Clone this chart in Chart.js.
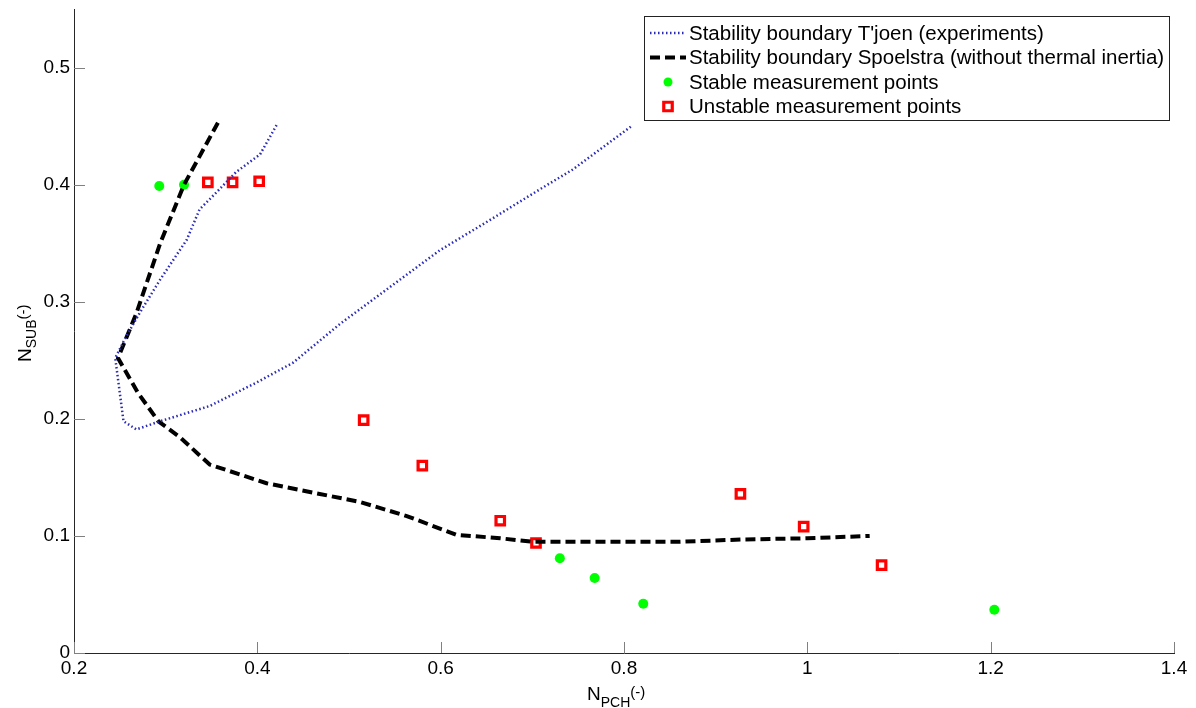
<!DOCTYPE html>
<html>
<head>
<meta charset="utf-8">
<script src="https://cdn.jsdelivr.net/npm/chart.js@4/dist/chart.umd.min.js"></script>
<style>
  html, body { margin: 0; padding: 0; background: #fff; }
  #wrap { width: 1196px; height: 708px; position: relative; }
</style>
</head>
<body>
<div id="wrap"><canvas id="chart" width="1196" height="708"></canvas></div>
<script>
'use strict';

// Stability boundary T'joen (experiments)
const tjoenX = [0.421, 0.403, 0.377, 0.356, 0.337, 0.323, 0.294, 0.272, 0.256, 0.245,
                0.250, 0.254, 0.268, 0.294, 0.348, 0.399, 0.439, 0.490, 0.599, 0.654,
                0.708, 0.744, 0.808];
const tjoenY = [0.451, 0.426, 0.411, 0.394, 0.379, 0.353, 0.319, 0.291, 0.269, 0.252,
                0.222, 0.198, 0.191, 0.198, 0.211, 0.231, 0.248, 0.281, 0.344, 0.370,
                0.396, 0.413, 0.450];

// Stability boundary Spoelstra (without thermal inertia)
const spoelX = [0.357, 0.320, 0.294, 0.268, 0.248, 0.270, 0.292, 0.316, 0.348, 0.410,
                0.512, 0.563, 0.617, 0.665, 0.700, 0.860, 0.930, 1.000, 1.068];
const spoelY = [0.453, 0.400, 0.350, 0.290, 0.252, 0.222, 0.198, 0.184, 0.161, 0.145,
                0.129, 0.117, 0.101, 0.098, 0.095, 0.095, 0.097, 0.098, 0.100];

// measurement points
const stableX = [0.293, 0.320, 0.730, 0.768, 0.821, 1.204];
const stableY = [0.399, 0.400, 0.081, 0.064, 0.042, 0.037];
const unstableX = [0.346, 0.373, 0.402, 0.516, 0.580, 0.665, 0.704, 0.927, 0.996, 1.081];
const unstableY = [0.402, 0.402, 0.403, 0.199, 0.160, 0.113, 0.094, 0.136, 0.108, 0.075];

const xTicks = [0.2, 0.4, 0.6, 0.8, 1, 1.2, 1.4];
const yTicks = [0, 0.1, 0.2, 0.3, 0.4, 0.5];

const legendLabels = [
  "Stability boundary T'joen (experiments)",
  'Stability boundary Spoelstra (without thermal inertia)',
  'Stable measurement points',
  'Unstable measurement points'
];

const FONT = "'Liberation Sans', Arial, sans-serif";
const toPts = (xs, ys) => xs.map((x, i) => ({ x: x, y: ys[i] }));
const fmt = v => String(+Number(v).toFixed(2));

// inward tick marks, MATLAB style
const tickMarks = {
  id: 'tickMarks',
  afterDraw(chart) {
    const { ctx, chartArea: a, scales: { x, y } } = chart;
    ctx.save();
    ctx.strokeStyle = '#808080';
    ctx.lineWidth = 1;
    ctx.beginPath();
    xTicks.forEach(v => {
      const px = Math.round(x.getPixelForValue(v)) + 0.5;
      ctx.moveTo(px, a.bottom); ctx.lineTo(px, a.bottom - 11);
    });
    yTicks.forEach(v => {
      const py = Math.round(y.getPixelForValue(v)) + 0.5;
      ctx.moveTo(a.left, py); ctx.lineTo(a.left + 11, py);
    });
    ctx.stroke();
    ctx.restore();
  }
};

// axis titles with subscripts + legend box
const titlesAndLegend = {
  id: 'titlesAndLegend',
  afterDraw(chart) {
    const ctx = chart.ctx;
    ctx.save();
    ctx.fillStyle = '#000';
    ctx.textBaseline = 'alphabetic';
    ctx.textAlign = 'left';

    // x title: N_PCH(-)
    let cx = 587;
    ctx.font = '19px ' + FONT;
    ctx.fillText('N', cx, 700); cx += ctx.measureText('N').width;
    ctx.font = '14px ' + FONT;
    ctx.fillText('PCH', cx, 707); cx += ctx.measureText('PCH').width;
    ctx.font = '15px ' + FONT;
    ctx.fillText('(-)', cx, 697);

    // y title: N_SUB(-), rotated
    ctx.translate(31, 362);
    ctx.rotate(-Math.PI / 2);
    cx = 0;
    ctx.font = '19px ' + FONT;
    ctx.fillText('N', cx, 0); cx += ctx.measureText('N').width;
    ctx.font = '14px ' + FONT;
    ctx.fillText('SUB', cx, 5); cx += ctx.measureText('SUB').width;
    ctx.font = '15px ' + FONT;
    ctx.fillText('(-)', cx, -3);
    ctx.setTransform(1, 0, 0, 1, 0, 0);

    // legend
    const bx = 644, by = 16, bw = 525, bh = 104;
    ctx.fillStyle = '#fff';
    ctx.fillRect(bx, by, bw, bh);
    ctx.strokeStyle = '#222';
    ctx.lineWidth = 1;
    ctx.strokeRect(bx + 0.5, by + 0.5, bw, bh);

    const rows = [33, 57.5, 82, 106.5];
    const ds = chart.data.datasets;
    ctx.font = '20.5px ' + FONT;
    ctx.textBaseline = 'middle';
    rows.forEach((ry, i) => {
      const d = ds[i];
      ctx.save();
      if (i < 2) {
        ctx.strokeStyle = d.borderColor;
        ctx.lineWidth = d.borderWidth;
        ctx.setLineDash(d.borderDash);
        ctx.beginPath();
        ctx.moveTo(650, ry); ctx.lineTo(686, ry);
        ctx.stroke();
      } else {
        ctx.fillStyle = d.pointBackgroundColor;
        ctx.strokeStyle = d.pointBorderColor;
        ctx.lineWidth = d.pointBorderWidth;
        ctx.beginPath();
        if (d.pointStyle === 'rect') {
          const s = d.pointRadius * Math.SQRT1_2;
          ctx.rect(668 - s, ry - s, 2 * s, 2 * s);
        } else {
          ctx.arc(668, ry, d.pointRadius - 0.5, 0, Math.PI * 2);
        }
        ctx.fill();
        if (d.pointBorderWidth) ctx.stroke();
      }
      ctx.restore();
      ctx.fillStyle = '#000';
      ctx.fillText(legendLabels[i], 689, ry + 1);
    });
    ctx.restore();
  }
};

new Chart(document.getElementById('chart').getContext('2d'), {
  type: 'scatter',
  data: {
    datasets: [
      {
        label: legendLabels[0],
        data: toPts(tjoenX, tjoenY),
        showLine: true,
        borderColor: '#2a2ab8',
        borderWidth: 2.5,
        borderDash: [1.5, 2.5],
        pointRadius: 0,
        tension: 0
      },
      {
        label: legendLabels[1],
        data: toPts(spoelX, spoelY),
        showLine: true,
        borderColor: '#000',
        borderWidth: 4,
        borderDash: [10, 5],
        pointRadius: 0,
        tension: 0
      },
      {
        label: legendLabels[2],
        data: toPts(stableX, stableY),
        pointStyle: 'circle',
        pointRadius: 5,
        pointBorderWidth: 0,
        pointBackgroundColor: '#00ff00',
        pointBorderColor: '#00ff00'
      },
      {
        label: legendLabels[3],
        data: toPts(unstableX, unstableY),
        pointStyle: 'rect',
        pointRadius: 6,
        pointBorderWidth: 3.2,
        pointBackgroundColor: '#fff',
        pointBorderColor: '#ff0000'
      }
    ]
  },
  options: {
    responsive: false,
    animation: false,
    layout: { padding: { top: 9, right: 22, left: 0, bottom: 0 } },
    plugins: { legend: { display: false }, tooltip: { enabled: false } },
    scales: {
      x: {
        type: 'linear',
        min: 0.2, max: 1.4,
        grid: { display: false, drawTicks: false },
        border: { display: true, color: '#262626', width: 1 },
        ticks: {
          stepSize: 0.2, includeBounds: false, padding: 4,
          color: '#000', font: { family: FONT, size: 19 },
          callback: fmt
        },
        afterFit: s => { s.height = 55; s.paddingLeft = 0; s.paddingRight = 0; }
      },
      y: {
        type: 'linear',
        min: 0, max: 0.55,
        grid: { display: false, drawTicks: false },
        border: { display: true, color: '#262626', width: 1 },
        ticks: {
          stepSize: 0.1, includeBounds: false, padding: 4,
          color: '#000', font: { family: FONT, size: 19 },
          callback: fmt
        },
        afterFit: s => { s.width = 74; s.paddingTop = 0; s.paddingBottom = 0; }
      }
    }
  },
  plugins: [tickMarks, titlesAndLegend]
});
</script>
</body>
</html>
